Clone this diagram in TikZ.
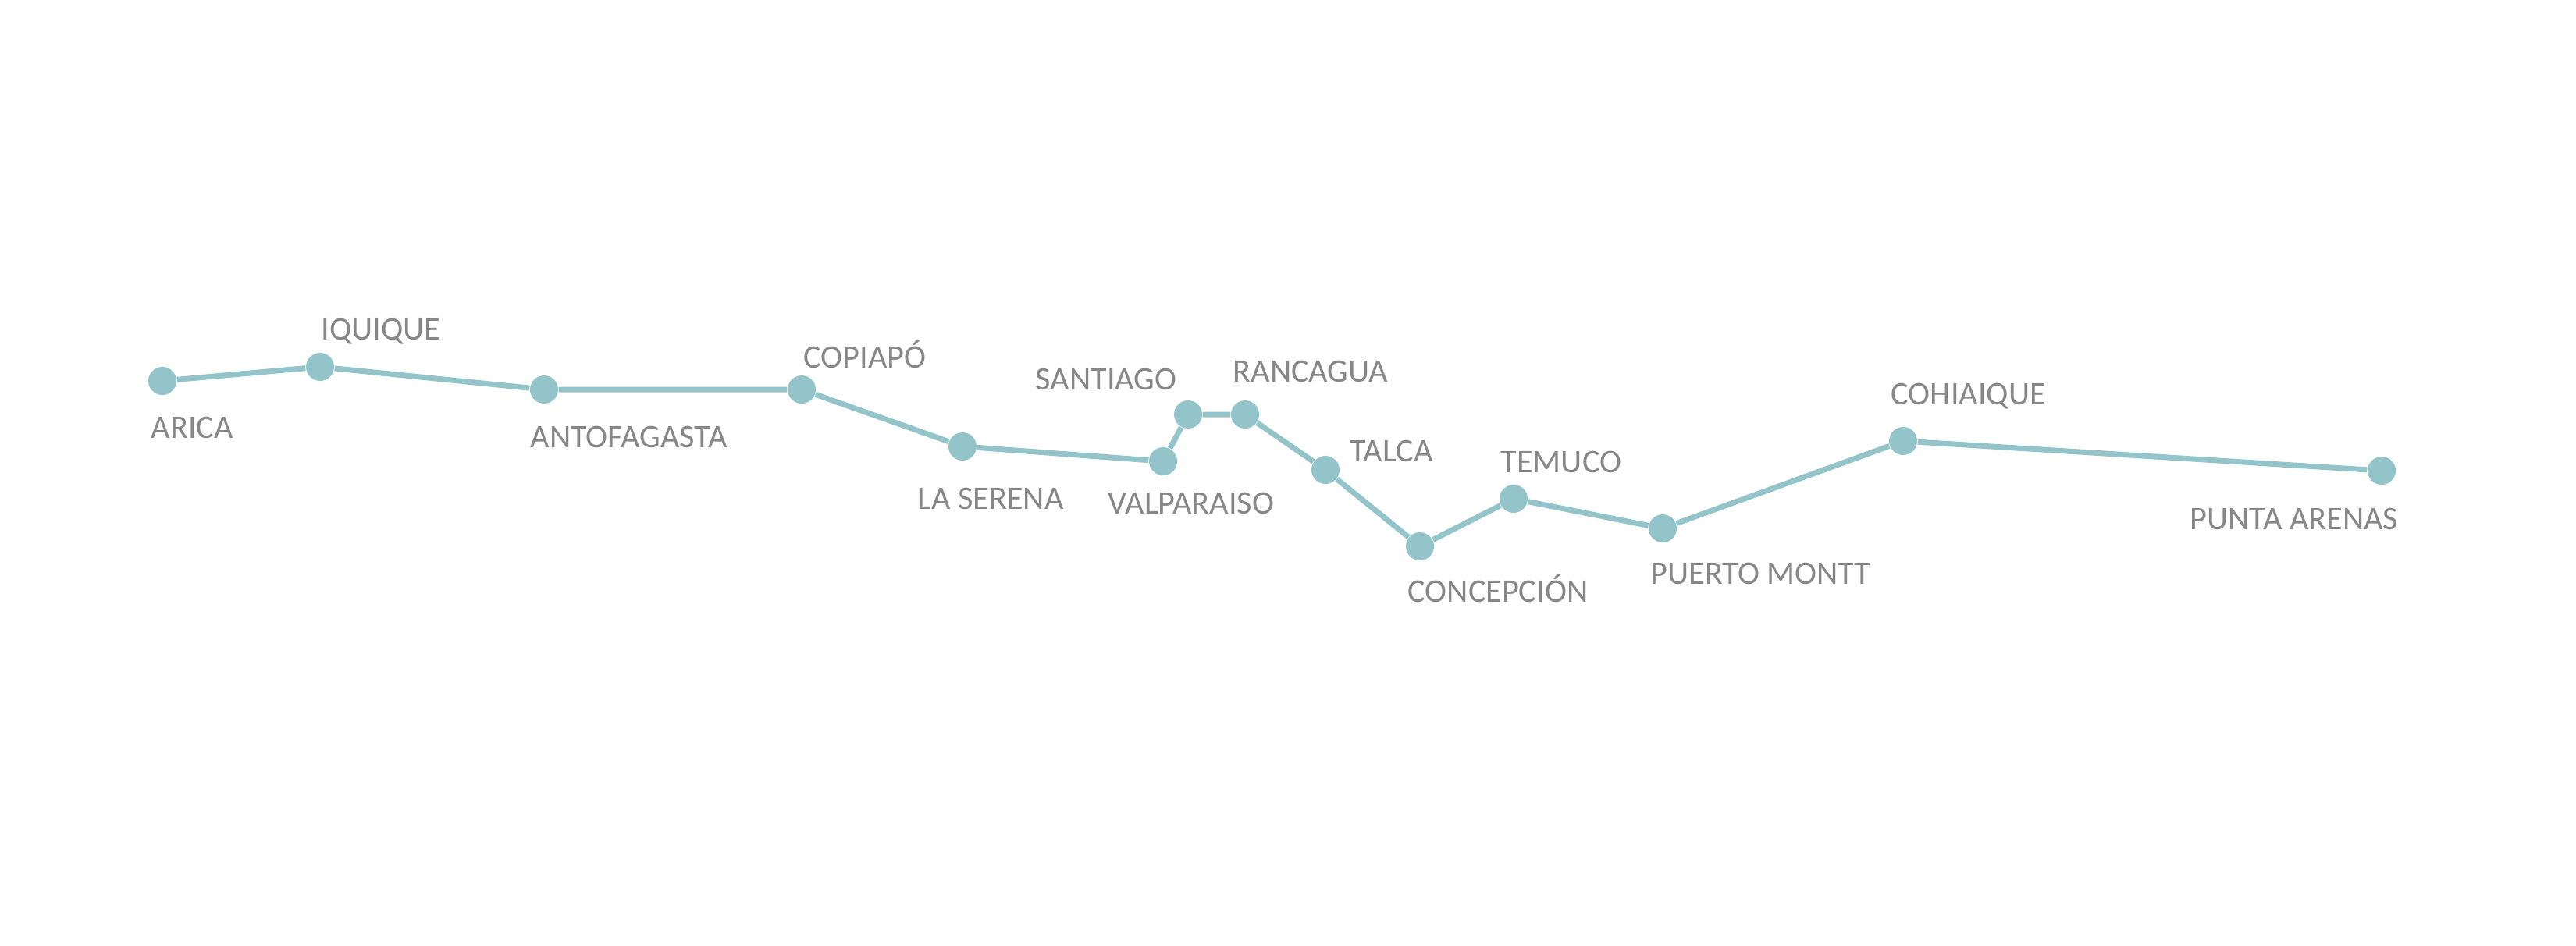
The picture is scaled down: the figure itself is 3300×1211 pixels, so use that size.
\documentclass[tikz,border=0pt]{standalone}
\usepackage{fontspec}
\setmainfont{Carlito}
\usepackage{xcolor}
\definecolor{routeteal}{HTML}{93C4C9}
\definecolor{labelgray}{HTML}{878787}

\begin{document}
\begin{tikzpicture}[
        x=0.01cm, y=-0.01cm,
        font=\fontsize{12}{14}\selectfont,
        stop/.style={circle, fill=routeteal, minimum size=0.36cm, inner sep=0pt},
        city/.style={anchor=base west, inner sep=0pt, text=labelgray},
        route/.style={draw=routeteal, line width=2pt}
    ]
        \useasboundingbox (0,0) rectangle (3300,1211);

        % paradas
        \node[stop] (arica)     at (208,488)  {};
        \node[stop] (iquique)   at (410,470)  {};
        \node[stop] (antofa)    at (697,499)  {};
        \node[stop] (copiapo)   at (1027,499) {};
        \node[stop] (serena)    at (1233,572) {};
        \node[stop] (valpo)     at (1490,591) {};
        \node[stop] (santiago)  at (1522,531) {};
        \node[stop] (rancagua)  at (1595,531) {};
        \node[stop] (talca)     at (1698,602) {};
        \node[stop] (concep)    at (1819,700) {};
        \node[stop] (temuco)    at (1939,639) {};
        \node[stop] (pmontt)    at (2130,677) {};
        \node[stop] (coyhaique) at (2438,565) {};
        \node[stop] (parenas)   at (3051,603) {};

        % nombres
        \node[city] (aricaL)     at (193,561)  {ARICA};
        \node[city] (iquiqueL)   at (411,435)  {IQUIQUE};
        \node[city] (antofaL)    at (679,573)  {ANTOFAGASTA};
        \node[city] (copiapoL)   at (1029,471) {COPIAPÓ};
        \node[city] (serenaL)    at (1175,652) {LA SERENA};
        \node[city] (santiagoL)  at (1326,499) {SANTIAGO};
        \node[city] (valpoL)     at (1419,658) {VALPARAISO};
        \node[city] (rancaguaL)  at (1579,489) {RANCAGUA};
        \node[city] (talcaL)     at (1729,591) {TALCA};
        \node[city] (concepL)    at (1803,771) {CONCEPCIÓN};
        \node[city] (temucoL)    at (1922,605) {TEMUCO};
        \node[city] (pmonttL)    at (2114,748) {PUERTO MONTT};
        \node[city] (coyhaiqueL) at (2422,518) {COHIAIQUE};
        \node[city] (parenasL)   at (2805,678) {PUNTA ARENAS};

        \draw[route] (arica) -- (iquique) -- (antofa) -- (copiapo) -- (serena)
            -- (valpo) -- (santiago) -- (rancagua) -- (talca) -- (concep)
            -- (temuco) -- (pmontt) -- (coyhaique) -- (parenas);
    \end{tikzpicture}
\end{document}
